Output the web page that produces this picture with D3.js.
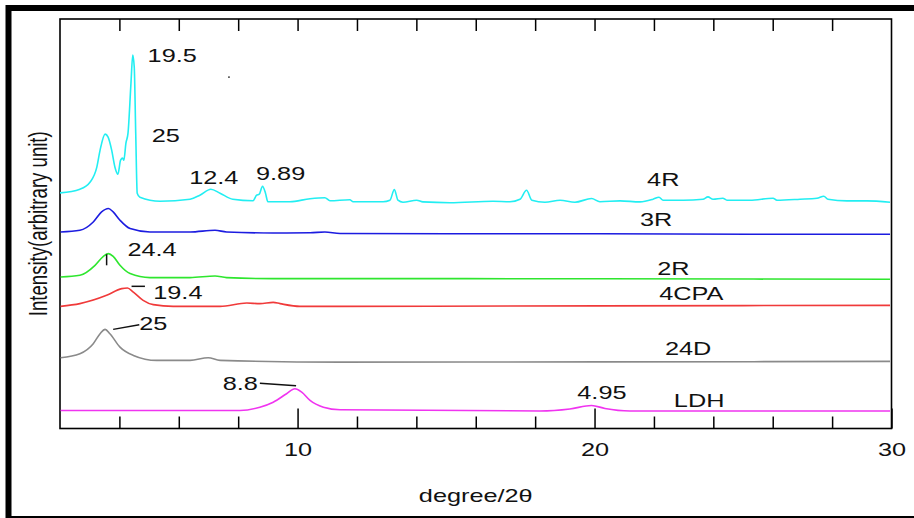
<!DOCTYPE html>
<html>
<head>
<meta charset="utf-8">
<script src="https://cdn.jsdelivr.net/npm/d3@7"></script>
<style>
  html, body { margin: 0; padding: 0; background: #fff; }
  text { font-family: "Liberation Sans", Arial, sans-serif; fill: #111; }
</style>
</head>
<body>
<svg id="chart" width="914" height="518"></svg>
<script>
/* XRD patterns, [2theta, intensity (arbitrary, offset already included)] */
const s4R = [[2.00,235.3],[2.67,239],[3.01,246],[3.24,261],[3.35,278],[3.52,294],[3.62,291],[3.74,278],[3.85,261],[3.95,254],[4.04,268],[4.11,270],[4.15,268],[4.22,285],[4.29,295],[4.39,345],[4.45,373],[4.50,361],[4.55,295],[4.60,235],[4.69,231],[5.37,227],[6.38,229],[6.71,233],[7.08,239],[7.39,235],[7.82,229],[8.50,227.5],[8.62,233],[8.71,234],[8.82,242],[8.92,235],[9.00,226.5],[9.74,226.5],[10.42,229.5],[10.92,230.5],[11.09,227.5],[11.76,228.5],[11.87,226.5],[12.88,226.5],[13.11,228],[13.26,238.7],[13.38,228],[13.55,226],[14.01,228],[14.22,226.3],[15.13,225.5],[16.58,227],[17.15,226.5],[17.49,229],[17.71,238],[17.89,228],[18.33,226],[18.84,228],[19.34,226],[19.90,229.7],[20.18,226.5],[20.86,227.3],[21.53,226.3],[21.97,229],[22.17,231],[22.31,228],[22.98,228],[23.65,229],[23.82,231.3],[23.99,229],[24.32,230],[24.46,228],[25.23,228],[26.01,230],[26.14,228],[26.92,229],[27.49,230],[27.72,232],[27.86,229],[28.50,227.3],[29.17,227.3],[29.95,226]]
const s3R = [[2.02,196.3],[2.67,198],[3.12,206.3],[3.40,216.3],[3.63,219.7],[3.79,216.3],[4.02,208],[4.36,199.7],[5.03,196.3],[6.38,196.3],[7.22,198],[7.61,196.3],[9.17,195.3],[10.42,195.5],[10.92,196.3],[11.43,194.7],[15.13,194.5],[20.18,194.5],[25.23,194],[29.95,194]]
const s2R = [[2.02,151.3],[2.67,153],[3.18,163],[3.46,172],[3.63,174.7],[3.79,172],[4.02,163],[4.36,154.7],[5.03,150.7],[6.38,150.7],[7.22,152.3],[7.61,150.7],[9.17,149.7],[11.43,149.7],[20.18,149.5],[29.95,149]]
const s4CPA = [[2.02,122],[2.67,124.7],[3.57,133],[4.08,139.7],[4.27,140.3],[4.47,136.3],[4.80,128],[5.14,123.7],[5.81,122],[7.39,122],[8.29,125.3],[8.73,124.7],[9.18,126],[9.41,124.7],[10.08,122],[11.43,122],[20.18,122.5],[29.95,123]]
const s24D = [[2.02,70.7],[2.67,74.7],[3.12,84.7],[3.35,94.7],[3.52,99],[3.68,94.7],[4.02,81.3],[4.47,73],[5.26,68],[6.38,68],[6.99,70.7],[7.39,68],[11.43,66.3],[20.18,66.5],[29.95,67]]
const sLDH = [[2.02,18],[8.06,18],[8.73,21.3],[9.18,26.3],[9.63,34.7],[9.91,39.7],[10.14,36.3],[10.42,28],[10.87,21.3],[11.43,18.7],[18.16,17.5],[19.17,19.5],[19.90,23],[20.35,20],[21.19,17.5],[29.95,17.5]]

const seriesNames = ['4R', '3R', '2R', '4CPA', '24D', 'LDH']
const seriesData = [s4R, s3R, s2R, s4CPA, s24D, sLDH]
const seriesColors = ['#22eef2', '#1c1ce0', '#2ee62e', '#f03a3a', '#8a8a8a', '#f034f0']
/* where the series name sits: [2theta, intensity] of text start / baseline */
const nameAt = [[21.77,242],[21.53,202],[22.11,153],[22.18,128.7],[22.37,73],[22.67,21.3]]

/* peak labels (d-spacing) */
const peakText = ['19.5', '25', '12.4', '9.89', '24.4', '19.4', '25', '8.8', '4.95']
const peakAt = [[4.95,366.3],[5.09,286.3],[6.35,244.7],[8.60,248.5],[4.27,172],[5.14,129.7],[4.67,98],[7.48,38],[19.42,29]]
/* little leader lines [[x1,y1],[x2,y2]] in data units */
const leaders = [[[3.57,174],[3.57,163]], [[4.41,142],[4.86,142]], [[3.79,99],[4.67,103.7]], [[8.73,45.3],[9.95,42.7]]]

const minorTicks = [4, 6, 8, 12, 14, 16, 18, 22, 24, 26, 28]
const majorTicks = [10, 20, 30]

const svg = d3.select('#chart')
const width = 914, height = 518
const stretch = 1.36   /* original picture is stretched sideways */
const fs = 18.6

const x = d3.scaleLinear().domain([2, 30]).range([60, 891.5])
const y = d3.scaleLinear().domain([0, 409]).range([428.5, 19])

/* outer black frame */
svg.append('rect')
    .attr('x', 8.5).attr('y', 8).attr('width', 930).attr('height', 511)
    .attr('fill', 'none').attr('stroke', '#000').attr('stroke-width', 6)

/* ticks, bottom (inward) */
svg.append('g')
    .attr('transform', `translate(0,${y(0)})`)
    .call(d3.axisBottom(x).tickValues(minorTicks).tickSize(-12).tickFormat(''))
    .call(g => g.select('.domain').remove())
    .call(g => g.selectAll('line').attr('stroke-width', 1.5))

const bottomMajor = svg.append('g')
    .attr('transform', `translate(0,${y(0)})`)
    .call(d3.axisBottom(x).tickValues(majorTicks).tickSize(-20).tickFormat(d3.format('d')))
    .call(g => g.select('.domain').remove())
    .call(g => g.selectAll('line').attr('stroke-width', 1.5))
bottomMajor.selectAll('text')
    .attr('y', 0).attr('dy', 0)
    .attr('transform', `translate(0,27) scale(${stretch},1)`)
    .style('font-size', `${fs}px`)
    .style('font-family', '"Liberation Sans", Arial, sans-serif')
    .attr('fill', '#111')

/* ticks, top (inward) */
svg.append('g')
    .attr('transform', `translate(0,${y(409)})`)
    .call(d3.axisTop(x).tickValues(minorTicks.concat([10, 20])).tickSize(-12).tickFormat(''))
    .call(g => g.select('.domain').remove())
    .call(g => g.selectAll('line').attr('stroke-width', 1.5))

/* plot box */
svg.append('rect')
    .attr('x', x(2)).attr('y', y(409))
    .attr('width', x(30) - x(2)).attr('height', y(0) - y(409))
    .attr('fill', 'none').attr('stroke', '#000').attr('stroke-width', 1.6)

/* curves */
const line = d3.line()
    .x(d => x(d[0]))
    .y(d => y(d[1]))
    .curve(d3.curveMonotoneX)

svg.append('g')
    .selectAll('path')
    .data(seriesData)
    .join('path')
    .attr('d', d => line(d))
    .attr('fill', 'none')
    .attr('stroke', (d, i) => seriesColors[i])
    .attr('stroke-width', 1.6)
    .attr('stroke-linejoin', 'round')

/* text helper, stretched sideways like the picture */
const put = (g, t, px, py) => g.append('text')
    .attr('transform', `translate(${px},${py}) scale(${stretch},1)`)
    .style('font-size', `${fs}px`)
    .text(t)

const labels = svg.append('g')
seriesNames.forEach((n, i) => put(labels, n, x(nameAt[i][0]), y(nameAt[i][1])))
peakText.forEach((t, i) => put(labels, t, x(peakAt[i][0]), y(peakAt[i][1])))

svg.append('g')
    .selectAll('line')
    .data(leaders)
    .join('line')
    .attr('x1', d => x(d[0][0])).attr('y1', d => y(d[0][1]))
    .attr('x2', d => x(d[1][0])).attr('y2', d => y(d[1][1]))
    .attr('stroke', '#111').attr('stroke-width', 1.5)

/* stray speck in the original */
svg.append('circle')
    .attr('cx', x(7.69)).attr('cy', y(351)).attr('r', 0.9).attr('fill', '#222')

/* axis titles */
svg.append('text')
    .attr('transform', `translate(${(x(2) + x(30)) / 2},502) scale(${stretch},1)`)
    .attr('text-anchor', 'middle')
    .style('font-size', `${fs}px`)
    .text('degree/2θ')

svg.append('text')
    .attr('transform', `translate(47,${(y(0) + y(409)) / 2}) scale(${stretch},1) rotate(-90)`)
    .attr('text-anchor', 'middle')
    .style('font-size', `${fs}px`)
    .text('Intensity(arbitrary unit)')
</script>
</body>
</html>
